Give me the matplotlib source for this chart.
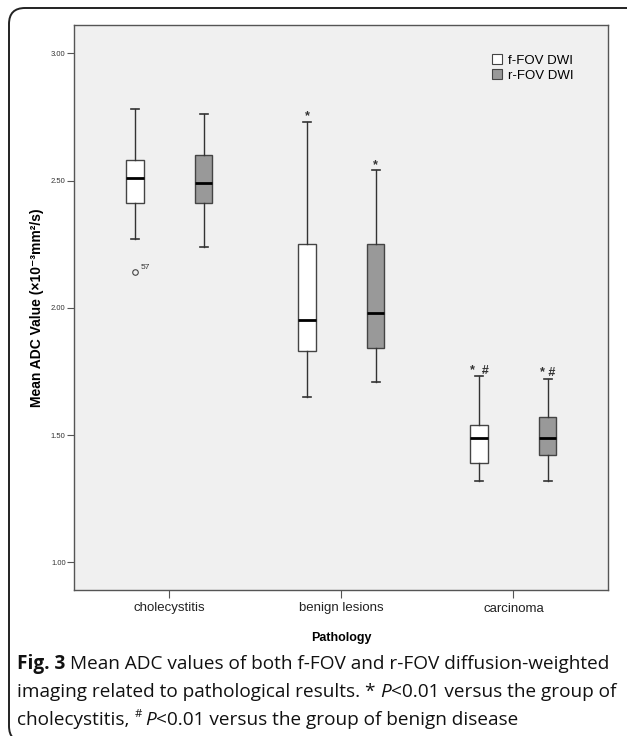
import matplotlib
matplotlib.use("Agg")
import matplotlib.pyplot as plt
from matplotlib.patches import Patch, FancyBboxPatch
from matplotlib.transforms import IdentityTransform

categories = ["cholecystitis", "benign lesions", "carcinoma"]
series = ["f-FOV DWI", "r-FOV DWI"]
series_colors = ["#ffffff", "#999999"]

# box statistics, one [f-FOV, r-FOV] pair per category
whisker_low = [[2.27, 2.24], [1.65, 1.71], [1.32, 1.32]]
q1 = [[2.41, 2.41], [1.83, 1.84], [1.39, 1.42]]
median = [[2.51, 2.49], [1.95, 1.98], [1.49, 1.49]]
q3 = [[2.58, 2.60], [2.25, 2.25], [1.54, 1.57]]
whisker_high = [[2.78, 2.76], [2.73, 2.54], [1.73, 1.72]]
outliers = [[[2.14], []], [[], []], [[], []]]
outlier_ids = [[["57"], []], [[], []], [[], []]]
marks = [["", ""], ["*", "*"], ["*  #", "* #"]]

yticks = [1.00, 1.50, 2.00, 2.50, 3.00]

W, H = 627, 736
fig = plt.figure(figsize=(W / 100, H / 100), dpi=100)
ax = fig.add_axes([74 / W, 1 - 590 / H, 534 / W, 565 / H])
ax.set_facecolor("#f0f0f0")

base = ["Liberation Sans", "DejaVu Sans"]
offset = 0.2
for j in range(len(series)):
    stats = []
    pos = []
    for i in range(len(categories)):
        stats.append(dict(med=median[i][j], q1=q1[i][j], q3=q3[i][j],
                          whislo=whisker_low[i][j], whishi=whisker_high[i][j],
                          fliers=outliers[i][j]))
        pos.append(i + (j - 0.5) * 2 * offset)
    ax.bxp(stats, positions=pos, widths=0.1, capwidths=0.05, patch_artist=True,
           boxprops=dict(facecolor=series_colors[j], edgecolor="#444444", linewidth=1),
           medianprops=dict(color="black", linewidth=2),
           whiskerprops=dict(color="#333333", linewidth=1),
           capprops=dict(color="#333333", linewidth=1.2),
           flierprops=dict(marker="o", markerfacecolor="none", markeredgecolor="#444444",
                           markersize=4, markeredgewidth=0.8))
    for i in range(len(categories)):
        x = pos[i]
        for v, lab in zip(outliers[i][j], outlier_ids[i][j]):
            ax.text(x + 0.03, v + 0.012, lab, fontsize=6, color="#333333", family=base)
        if marks[i][j]:
            ax.text(x, whisker_high[i][j] + 0.022, marks[i][j], ha="center", va="center",
                    fontsize=9, fontweight="bold", color="#333333", family=base)

ax.set_xlim(-0.555, 2.55)
ax.set_ylim(0.891, 3.111)
ax.set_yticks(yticks)
ax.set_yticklabels([f"{v:.2f}" for v in yticks], fontsize=5.5, color="#333333", family=base)
ax.set_xticks(range(len(categories)))
ax.set_xticklabels(categories, fontsize=9.5, color="#222222", family=base)
ax.tick_params(axis="y", length=5, width=0.8, color="#555555", pad=1)
ax.tick_params(axis="x", length=6, width=0.8, color="#555555", pad=3)
for s in ax.spines.values():
    s.set_color("#555555")
    s.set_linewidth(1)

ax.set_ylabel("Mean ADC Value (×10⁻³mm²/s)", fontsize=10, fontweight="bold", family=base)
ax.yaxis.set_label_coords(-0.057, 0.5)
ax.set_xlabel("Pathology", fontsize=9, fontweight="bold", family=base)
ax.xaxis.set_label_coords(0.5, -0.074)

handles = [Patch(facecolor=c, edgecolor="#444444", linewidth=0.8) for c in series_colors]
ax.legend(handles, series, loc="upper right", bbox_to_anchor=(0.945, 0.958), frameon=False,
          prop=dict(family=base, size=9.5), handlelength=0.8, handleheight=0.8,
          handletextpad=0.4, labelspacing=0.2, borderaxespad=0)

# rounded outer frame
frame = FancyBboxPatch((9, -6), 645, 734, boxstyle="round,pad=0,rounding_size=16",
                       facecolor="none", edgecolor="#222222", linewidth=1.4,
                       transform=IdentityTransform())
fig.add_artist(frame)

# caption, drawn piece by piece
cap_font = ["Open Sans", "DejaVu Sans"]
renderer = fig.canvas.get_renderer()
caption = [
    [("Fig. 3", "bold"), (" Mean ADC values of both f-FOV and r-FOV diffusion-weighted", "normal")],
    [("imaging related to pathological results. * ", "normal"), ("P", "italic"),
     ("<0.01 versus the group of", "normal")],
    [("cholecystitis, ", "normal"), ("#", "sup"), ("P", "italic"),
     ("<0.01 versus the group of benign disease", "normal")],
]


def text_width(s, size, style):
    t = fig.text(0, 0, s, fontsize=size, family=cap_font,
                 fontweight="bold" if style == "bold" else "normal",
                 fontstyle="italic" if style == "italic" else "normal")
    w = t.get_window_extent(renderer).width
    t.remove()
    return w


def space_width(size):
    return text_width("a a", size, "normal") - text_width("aa", size, "normal")


def draw_line(parts, x0, y, size, draw=True):
    x = x0
    sp = space_width(size)
    for s, style in parts:
        lead = len(s) - len(s.lstrip(" "))
        trail = len(s) - len(s.rstrip(" "))
        core = s.strip(" ")
        x += lead * sp
        if core:
            fs = size * 0.6 if style == "sup" else size
            dy = size * 0.55 if style == "sup" else 0
            w = text_width(core, fs, style)
            if draw:
                fig.text(x, H - y + dy, core, fontsize=fs, family=cap_font,
                         fontweight="bold" if style == "bold" else "normal",
                         fontstyle="italic" if style == "italic" else "normal",
                         va="baseline", ha="left", color="#111111",
                         transform=IdentityTransform())
            x += w
            if style == "sup":
                x += sp * 0.8
        x += trail * sp
    return x - x0


cap_size = 10.0
cap_size = cap_size * 595 / draw_line(caption[0], 17, 0, cap_size, draw=False)
for k, parts in enumerate(caption):
    draw_line(parts, 17, 669 + k * 28, cap_size)

fig.savefig("out.png", dpi=100)
